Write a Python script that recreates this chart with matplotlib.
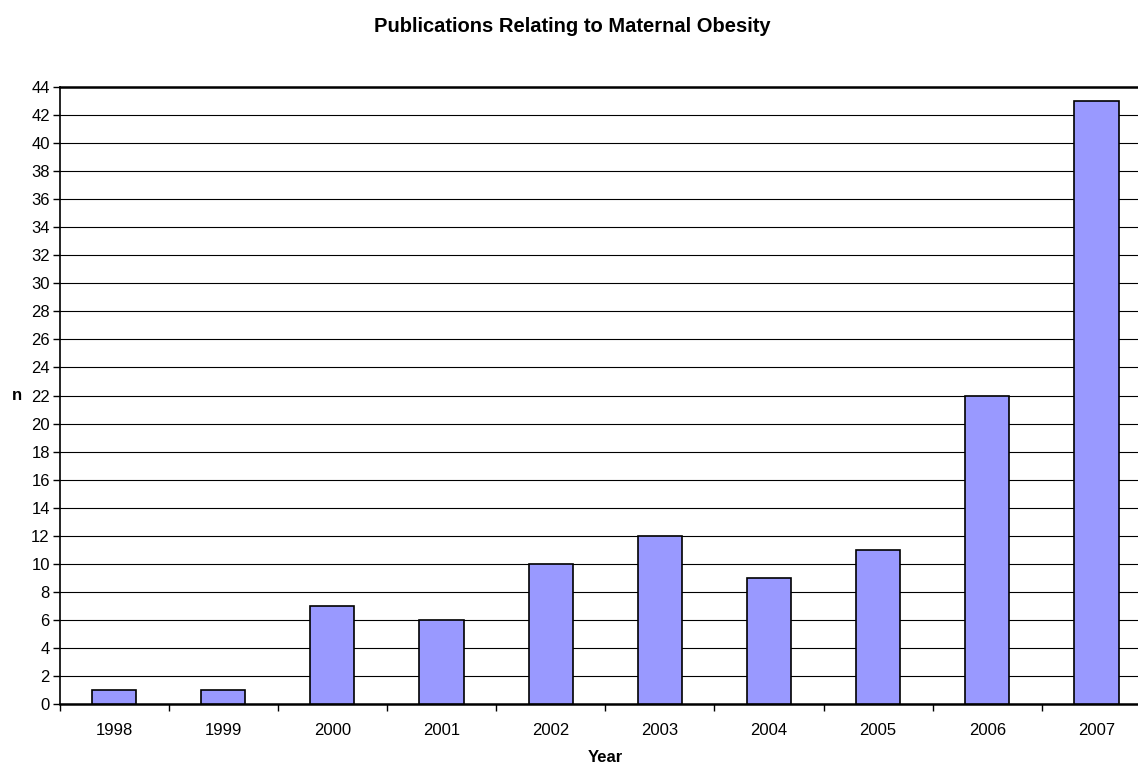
import matplotlib
matplotlib.use("Agg")
import matplotlib.pyplot as plt
import numpy as np

# yearly publication counts
years = ["1998", "1999", "2000", "2001", "2002", "2003", "2004", "2005", "2006", "2007"]
counts = [1, 1, 7, 6, 10, 12, 9, 11, 22, 43]
y_ticks = list(range(0, 46, 2))

plt.rcParams['font.family'] = ['Liberation Sans', 'DejaVu Sans']

W, H = 1138, 764
fig = plt.figure(figsize=(W / 100, H / 100), dpi=100)
# plot area runs a little past the right edge of the figure
left, right, top, bottom = 59.5, 1151, 87, 704
ax = fig.add_axes([left / W, 1 - bottom / H, (right - left) / W, (bottom - top) / H])

x = np.arange(len(years))
ax.bar(x, counts, width=0.405, color='#9999ff', edgecolor='black', linewidth=1.2, zorder=3)

ax.set_xlim(-0.5, len(years) - 0.5)
ax.set_ylim(0, 44)
ax.set_yticks(y_ticks)
ax.set_yticklabels([str(v) for v in y_ticks], fontsize=12)
ax.yaxis.grid(True, color='black', linewidth=0.8, zorder=0)
ax.set_axisbelow(True)

# category labels centred, tick marks between categories
ax.set_xticks(x)
ax.set_xticklabels(years, fontsize=12)
ax.set_xticks(np.arange(-0.5, len(years), 1), minor=True)
ax.tick_params(axis='x', which='major', length=0, pad=14)
ax.tick_params(axis='x', which='minor', length=5, width=1, direction='out')
ax.tick_params(axis='y', length=5, width=1, direction='out', pad=2)

ax.spines['right'].set_visible(False)
ax.spines['top'].set_linewidth(1.8)
ax.spines['left'].set_linewidth(1.2)
ax.spines['bottom'].set_linewidth(1.8)

# axis titles and chart title placed in figure pixels
fig.text(605 / W, 1 - 757 / H, "Year", ha='center', va='center',
         fontsize=12, fontweight='bold')
fig.text(17 / W, 1 - 395 / H, "n", ha='center', va='center',
         fontsize=12, fontweight='bold')
fig.text(572 / W, 1 - 27 / H, "Publications Relating to Maternal Obesity",
         ha='center', va='center', fontsize=14.5, fontweight='bold')

fig.savefig("out.png", dpi=100)
